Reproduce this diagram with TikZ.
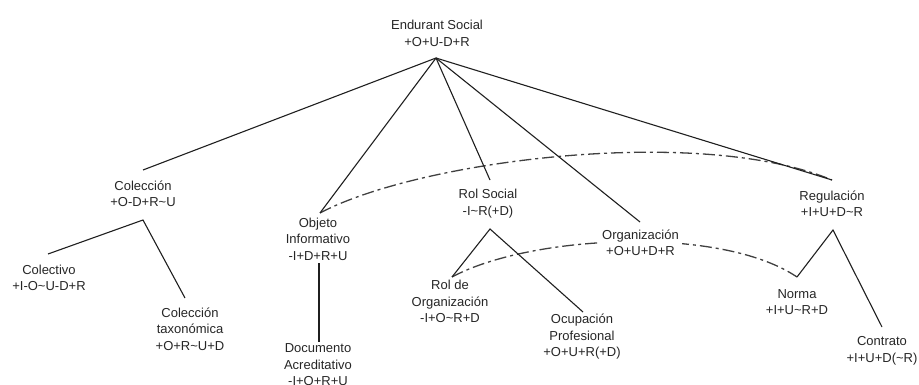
\documentclass[tikz,border=0pt]{standalone}
\usepackage{fontspec}
\setmainfont{Liberation Sans}
\begin{document}
\begin{tikzpicture}[x=1pt,y=-1pt,
  concept/.style={align=center,inner sep=1pt,text=black!85,
    font=\fontsize{13}{16.5}\selectfont},
  isa/.style={draw=black!88,line width=1.1pt},
  link/.style={draw=black!75,line width=1.3pt,
    dash pattern=on 12pt off 4pt on 3pt off 4pt}]
\useasboundingbox (0,0) rectangle (919,385);

% concepts
\node[concept] (root)   at (437,33.5) {Endurant Social\\+O+U-D+R};
\node[concept] (col)    at (143,194)  {Colección\\+O-D+R\textasciitilde U};
\node[concept] (colv)   at (49,278)   {Colectivo\\+I-O\textasciitilde U-D+R};
\node[concept] (tax)    at (190,329)  {Colección\\taxonómica\\+O+R\textasciitilde U+D};
\node[concept] (obj)    at (318,239)  {Objeto\\Informativo\\-I+D+R+U};
\node[concept] (doc)    at (318,365)  {Documento\\Acreditativo\\-I+O+R+U};
\node[concept] (rol)    at (488,203.5){Rol Social\\-I\textasciitilde R(+D)};
\node[concept] (rolorg) at (450,301.5){Rol de\\Organización\\-I+O\textasciitilde R+D};
\node[concept] (ocup)   at (582,337)  {Ocupación\\Profesional\\+O+U+R(+D)};
\node[concept] (reg)    at (832,204)  {Regulación\\+I+U+D\textasciitilde R};
\node[concept] (norma)  at (797,302)  {Norma\\+I+U\textasciitilde R+D};
\node[concept] (contr)  at (882,351)  {Contrato\\+I+U+D(\textasciitilde R)};

% attachment points of the connectors
\coordinate (rootB)   at (436,58);
\coordinate (colT)    at (143,170);
\coordinate (colB)    at (143,220);
\coordinate (colvT)   at (48,254);
\coordinate (taxT)    at (185,298);
\coordinate (objT)    at (320,213);
\coordinate (objB)    at (319,263);
\coordinate (docT)    at (319,342);
\coordinate (rolT)    at (490,180);
\coordinate (rolB)    at (490,229);
\coordinate (rolorgT) at (452,277);
\coordinate (ocupT)   at (583,312);
\coordinate (orgT)    at (640,222);
\coordinate (regT)    at (832,180);
\coordinate (regB)    at (833,230);
\coordinate (normaT)  at (797,277);
\coordinate (contrT)  at (882,327);

% associations (dash-dot)
\draw[link] (objT) .. controls (420,160) and (700,125) .. (regT);
\draw[link] (rolorgT) .. controls (530,235) and (720,225) .. (normaT);

% specialisations
\draw[isa] (rootB) -- (colT);
\draw[isa] (rootB) -- (objT);
\draw[isa] (rootB) -- (rolT);
\draw[isa] (rootB) -- (orgT);
\draw[isa] (rootB) -- (regT);
\draw[isa] (colvT) -- (colB) -- (taxT);
\draw[isa] (objB) -- (docT);
\draw[isa] (rolorgT) -- (rolB) -- (ocupT);
\draw[isa] (normaT) -- (regB) -- (contrT);

% drawn last so that its white ground covers the dash-dot curve
\node[concept,fill=white,inner sep=3pt] (org) at (640.5,243) {Organización\\+O+U+D+R};
\end{tikzpicture}
\end{document}
